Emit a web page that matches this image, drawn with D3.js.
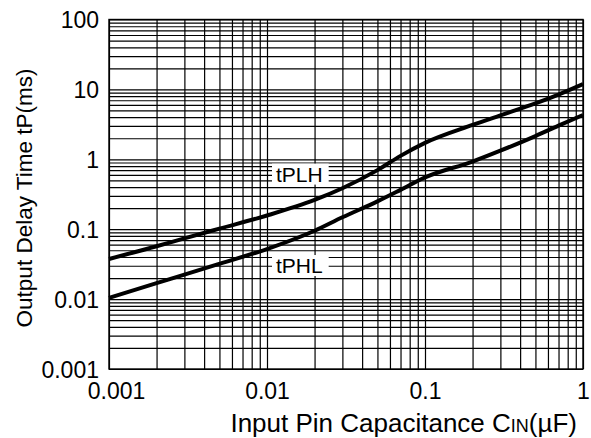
<!DOCTYPE html>
<html>
<head>
<meta charset="utf-8">
<script src="https://cdn.jsdelivr.net/npm/d3@7"></script>
<style>
  html, body { margin: 0; padding: 0; background: #fff; }
  svg { display: block; font-family: Arial, "Liberation Sans", Helvetica, sans-serif; }
</style>
</head>
<body>
<svg id="chart" width="591" height="438"></svg>
<script>
// ---- data ----
const capacitance = [0.001, 0.002, 0.003, 0.005, 0.01, 0.02, 0.03, 0.05, 0.07, 0.1, 0.2, 0.3, 0.5, 0.7, 1];
const tPLH = [0.0375, 0.057, 0.074, 0.102, 0.157, 0.262, 0.385, 0.70, 1.12, 1.72, 3.1, 4.25, 6.3, 8.43, 11.9];
const tPHL = [0.0104, 0.0169, 0.0224, 0.032, 0.052, 0.095, 0.148, 0.25, 0.365, 0.55, 0.93, 1.33, 2.15, 3.03, 4.3];
const xTickValues = [0.001, 0.01, 0.1, 1];
const xTickLabels = ["0.001", "0.01", "0.1", "1"];
const yTickValues = [0.001, 0.01, 0.1, 1, 10, 100];
const yTickLabels = ["0.001", "0.01", "0.1", "1", "10", "100"];
const seriesNames = ["tPLH", "tPHL"];
const seriesLabelAt = [[0.0114, 0.48], [0.0114, 0.0236]]; // label baseline-left in data units

// ---- layout ----
const svg = d3.select("#chart");
const L = 109, R = 583, T = 19.5, B = 369;
const x = d3.scaleLog().domain([0.001, 1]).range([L, R]);
const y = d3.scaleLog().domain([0.001, 100]).range([B, T]);

function minorGrid(lo, hi) {
  const v = [];
  for (let d = lo; d < hi * 0.999; d *= 10) for (let k = 1; k <= 9; k++) v.push(d * k);
  v.push(hi);
  return v;
}
const xGrid = minorGrid(0.001, 1);
const yGrid = minorGrid(0.001, 100);

// grid lines via axes
const gx = svg.append("g").attr("transform", `translate(0,${B})`)
  .call(d3.axisBottom(x).tickValues(xGrid).tickSize(-(B - T)).tickFormat(""));
gx.select(".domain").remove();
gx.selectAll(".tick line").attr("stroke", "#000").attr("stroke-width", 1.2);

const gy = svg.append("g").attr("transform", `translate(${L},0)`)
  .call(d3.axisLeft(y).tickValues(yGrid).tickSize(-(R - L)).tickFormat(""));
gy.select(".domain").remove();
gy.selectAll(".tick line").attr("stroke", "#000").attr("stroke-width", 1.2);

// frame
svg.append("rect").attr("x", L).attr("y", T).attr("width", R - L).attr("height", B - T)
  .attr("fill", "none").attr("stroke", "#000").attr("stroke-width", 1.4);

// tick labels
const ax = svg.append("g").attr("transform", `translate(0,${B})`)
  .call(d3.axisBottom(x).tickValues(xTickValues).tickSize(0).tickPadding(0)
    .tickFormat((d, i) => xTickLabels[i]));
ax.select(".domain").remove();
ax.selectAll("text").attr("font-size", 23).attr("fill", "#000")
  .attr("font-family", "Arial, 'Liberation Sans', sans-serif")
  .attr("dy", null).attr("y", 30)
  .attr("dx", (d, i) => i === 0 ? 7 : 0);

const ay = svg.append("g").attr("transform", `translate(${L},0)`)
  .call(d3.axisLeft(y).tickValues(yTickValues).tickSize(0).tickPadding(10)
    .tickFormat((d, i) => yTickLabels[i]));
ay.select(".domain").remove();
ay.selectAll("text").attr("font-size", 23).attr("fill", "#000")
  .attr("font-family", "Arial, 'Liberation Sans', sans-serif")
  .attr("dy", "0.36em");

// series labels with white boxes
seriesNames.forEach((name, i) => {
  const [lx, ly] = seriesLabelAt[i];
  const g = svg.append("g");
  const t = g.append("text").attr("x", x(lx)).attr("y", y(ly))
    .attr("font-size", 21).attr("fill", "#000").text(name);
  const bb = t.node().getBBox();
  g.insert("rect", "text").attr("x", bb.x - 4).attr("y", bb.y + 1)
    .attr("width", bb.width + 10).attr("height", bb.height - 2).attr("fill", "#fff");
});

// curves
const line = d3.line().x(d => x(d[0])).y(d => y(d[1])).curve(d3.curveMonotoneX);
[tPLH, tPHL].forEach(s => {
  svg.append("path").datum(capacitance.map((c, i) => [c, s[i]]))
    .attr("d", line).attr("fill", "none").attr("stroke", "#000")
    .attr("stroke-width", 4).attr("stroke-linejoin", "round");
});

// axis titles
const xt = svg.append("text").attr("x", 577).attr("y", 432).attr("text-anchor", "end")
  .attr("font-size", 26).attr("fill", "#000");
xt.append("tspan").text("Input Pin Capacitance C");
xt.append("tspan").attr("font-size", 18).text("IN");
xt.append("tspan").text("(\u00B5F)");

svg.append("text")
  .attr("transform", `translate(32,198) rotate(-90)`)
  .attr("text-anchor", "middle").attr("font-size", 22.5).attr("fill", "#000")
  .text("Output Delay Time tP(ms)");
</script>
</body>
</html>
